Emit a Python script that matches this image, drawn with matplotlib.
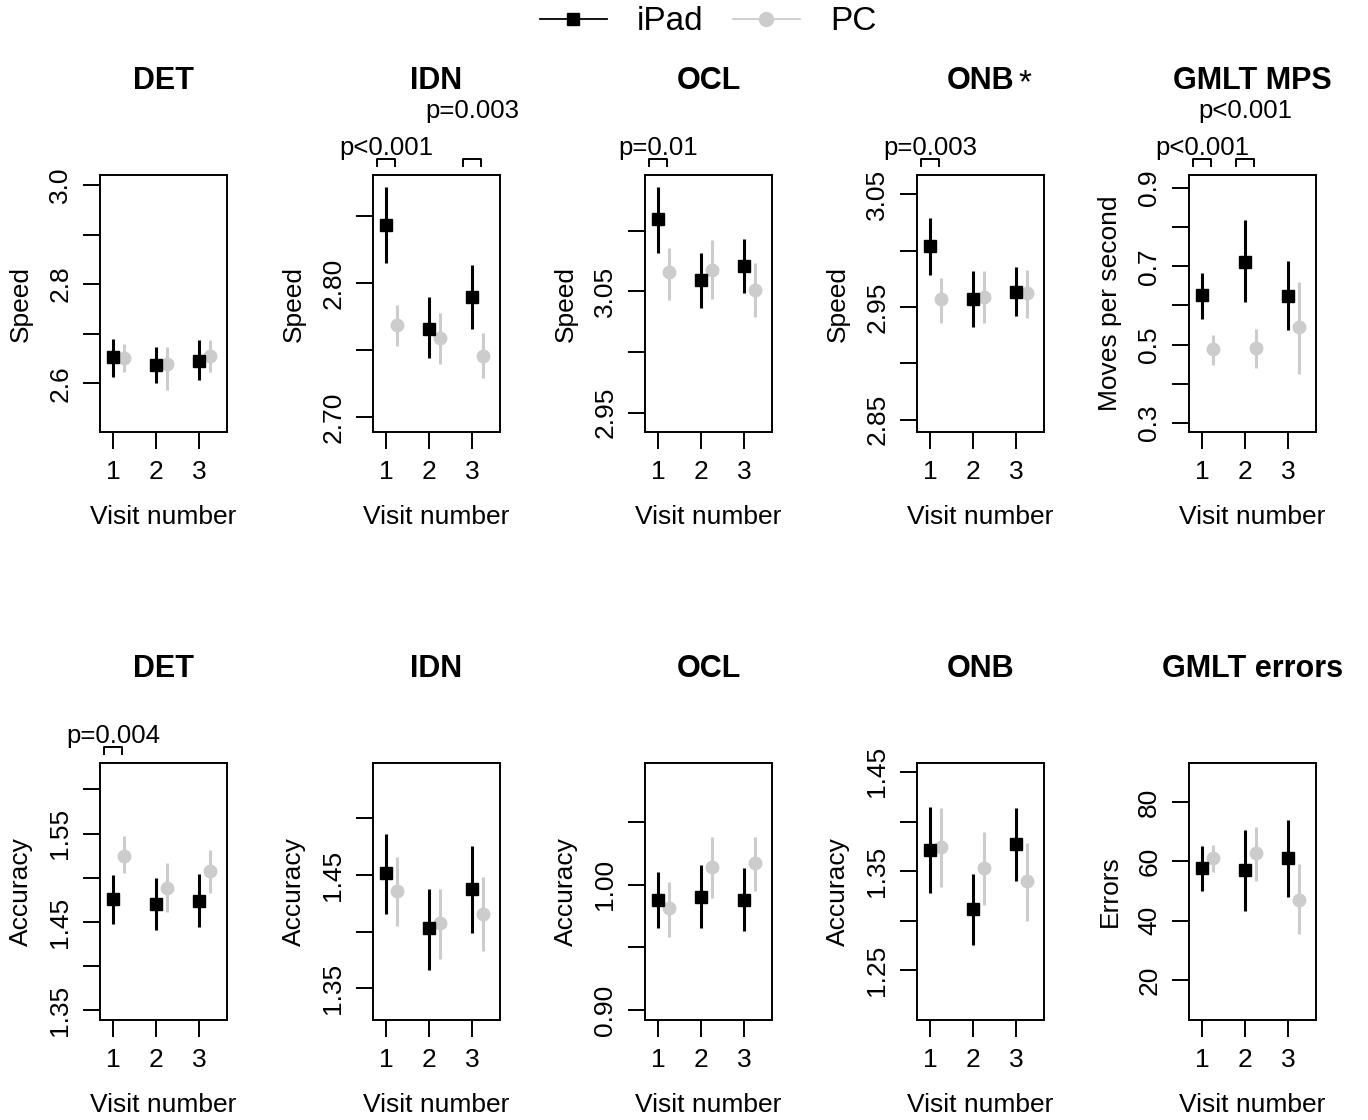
import matplotlib.pyplot as plt
from matplotlib.lines import Line2D

plt.rcParams['font.family'] = ['Liberation Sans', 'DejaVu Sans']

visits = [1, 2, 3]
pc_shift = 0.25

titles = ["DET", "IDN", "OCL", "ONB", "GMLT MPS",
          "DET", "IDN", "OCL", "ONB", "GMLT errors"]
ylabels = ["Speed", "Speed", "Speed", "Speed", "Moves per second",
           "Accuracy", "Accuracy", "Accuracy", "Accuracy", "Errors"]

ipad_mean = [
    [2.654, 2.638, 2.646],
    [2.844, 2.766, 2.790],
    [3.110, 3.059, 3.071],
    [3.004, 2.957, 2.963],
    [0.627, 0.711, 0.625],
    [1.476, 1.470, 1.474],
    [1.452, 1.403, 1.438],
    [0.988, 0.990, 0.988],
    [1.371, 1.312, 1.377],
    [57.7, 57.0, 61.0],
]
ipad_lo = [
    [2.612, 2.600, 2.606],
    [2.815, 2.744, 2.766],
    [3.082, 3.036, 3.049],
    [2.978, 2.932, 2.942],
    [0.566, 0.610, 0.538],
    [1.448, 1.441, 1.444],
    [1.416, 1.366, 1.399],
    [0.965, 0.965, 0.963],
    [1.328, 1.276, 1.340],
    [50.0, 43.2, 48.0],
]
ipad_hi = [
    [2.690, 2.674, 2.688],
    [2.872, 2.790, 2.814],
    [3.136, 3.082, 3.093],
    [3.029, 2.982, 2.985],
    [0.683, 0.818, 0.713],
    [1.503, 1.500, 1.504],
    [1.486, 1.438, 1.476],
    [1.010, 1.016, 1.013],
    [1.415, 1.347, 1.414],
    [65.0, 70.6, 74.0],
]
pc_mean = [
    [2.652, 2.640, 2.656],
    [2.769, 2.759, 2.746],
    [3.066, 3.068, 3.051],
    [2.957, 2.959, 2.962],
    [0.489, 0.492, 0.546],
    [1.525, 1.489, 1.508],
    [1.436, 1.408, 1.416],
    [0.981, 1.014, 1.017],
    [1.374, 1.353, 1.340],
    [61.0, 62.7, 47.0],
]
pc_lo = [
    [2.622, 2.586, 2.622],
    [2.753, 2.740, 2.729],
    [3.043, 3.044, 3.029],
    [2.936, 2.936, 2.940],
    [0.449, 0.441, 0.426],
    [1.505, 1.461, 1.483],
    [1.405, 1.376, 1.383],
    [0.958, 0.989, 0.995],
    [1.334, 1.316, 1.300],
    [56.3, 53.3, 35.6],
]
pc_hi = [
    [2.680, 2.674, 2.688],
    [2.784, 2.778, 2.763],
    [3.086, 3.092, 3.073],
    [2.976, 2.982, 2.983],
    [0.525, 0.541, 0.661],
    [1.547, 1.517, 1.531],
    [1.466, 1.438, 1.448],
    [1.002, 1.038, 1.038],
    [1.414, 1.389, 1.378],
    [65.4, 71.4, 59.0],
]

yticks = [
    [2.6, 2.7, 2.8, 2.9, 3.0],
    [2.70, 2.75, 2.80, 2.85],
    [2.95, 3.00, 3.05, 3.10],
    [2.85, 2.90, 2.95, 3.00, 3.05],
    [0.3, 0.4, 0.5, 0.6, 0.7, 0.8, 0.9],
    [1.35, 1.40, 1.45, 1.50, 1.55, 1.60],
    [1.35, 1.40, 1.45, 1.50],
    [0.90, 0.95, 1.00, 1.05],
    [1.25, 1.30, 1.35, 1.40, 1.45],
    [20, 40, 60, 80],
]
ytick_labels = [
    ["2.6", "", "2.8", "", "3.0"],
    ["2.70", "", "2.80", ""],
    ["2.95", "", "3.05", ""],
    ["2.85", "", "2.95", "", "3.05"],
    ["0.3", "", "0.5", "", "0.7", "", "0.9"],
    ["1.35", "", "1.45", "", "1.55", ""],
    ["1.35", "", "1.45", ""],
    ["0.90", "", "1.00", ""],
    ["1.25", "", "1.35", "", "1.45"],
    ["20", "40", "60", "80"],
]
ylims = [
    (2.502, 3.02), (2.689, 2.881), (2.934, 3.146), (2.839, 3.067),
    (0.277, 0.933), (1.339, 1.630), (1.322, 1.549), (0.892, 1.097),
    (1.200, 1.459), (6.6, 93.1),
]

# (panel, visit, label, level)
sig_tests = [
    (1, 1, "p<0.001", 0), (1, 3, "p=0.003", 1),
    (2, 1, "p=0.01", 0),
    (3, 1, "p=0.003", 0),
    (4, 1, "p<0.001", 0), (4, 2, "p<0.001", 1),
    (5, 1, "p=0.004", 0),
]

W, H = 1368, 1120
fig = plt.figure(figsize=(W / 100, H / 100), dpi=100)

col_left = [100, 373, 645, 917, 1189]
row_top = [175, 763]
box_w, box_h = 127, 257

GREY = '#cccccc'
axes = []
for i in range(10):
    r, c = divmod(i, 5)
    ax = fig.add_axes([col_left[c] / W, 1 - (row_top[r] + box_h) / H,
                       box_w / W, box_h / H])
    axes.append(ax)

    xp = [v + pc_shift for v in visits]
    ax.vlines(xp, pc_lo[i], pc_hi[i], color=GREY, lw=2.2, zorder=2)
    ax.plot(xp, pc_mean[i], 'o', ms=9, color=GREY, zorder=3)
    ax.vlines(visits, ipad_lo[i], ipad_hi[i], color='black', lw=2.2, zorder=4)
    ax.plot(visits, ipad_mean[i], 's', ms=8, color='black', zorder=5)

    ax.set_xlim(0.70, 3.65)
    ax.set_ylim(*ylims[i])
    ax.set_xticks(visits)
    ax.set_xticklabels([str(v) for v in visits])
    ax.set_yticks(yticks[i])
    ax.set_yticklabels(ytick_labels[i], rotation=90, va='center')
    ax.tick_params(length=12, width=1.4, labelsize=19, pad=8)
    for s in ax.spines.values():
        s.set_linewidth(1.4)

    ax.set_xlabel("Visit number", fontsize=19, labelpad=15)
    ax.set_ylabel(ylabels[i], fontsize=19, labelpad=11)
    t = ax.set_title(titles[i], fontsize=22, fontweight='bold', pad=62)
    if i == 3:
        ax.annotate("*", xy=(1, 1), xycoords=t, xytext=(3, -2),
                    textcoords='offset points', fontsize=24,
                    ha='left', va='top')

for p, v, label, level in sig_tests:
    ax = axes[p]
    y0 = 1 + 9 / box_h
    y1 = 1 + 16 / box_h
    ax.plot([v - 0.2, v - 0.2, v + 0.22, v + 0.22], [y0, y1, y1, y0],
            color='black', lw=1.4, transform=ax.get_xaxis_transform(),
            clip_on=False)
    ty = 1 + (20 if level == 0 else 57) / box_h
    ax.text(v, ty, label, fontsize=18.5, ha='center', va='baseline',
            transform=ax.get_xaxis_transform())

handles = [
    Line2D([], [], color='black', marker='s', ms=9, lw=1.3),
    Line2D([], [], color=GREY, marker='o', ms=10, lw=1.3),
]
fig.legend(handles, ["iPad", "PC"], loc='center', ncol=2, frameon=False,
           fontsize=24, handlelength=2.0, handletextpad=0.9,
           columnspacing=0.9, bbox_to_anchor=(708 / W, 1 - 22 / H))

fig.savefig("out.png", dpi=100)
